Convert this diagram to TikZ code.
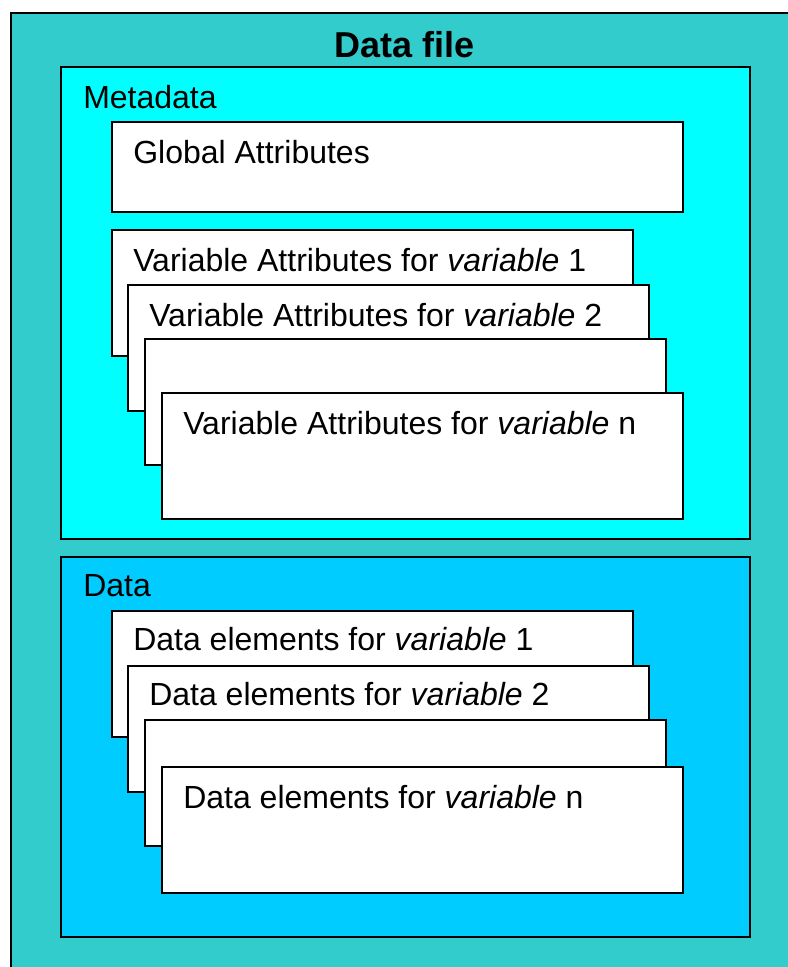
\documentclass[tikz,border=0pt]{standalone}
\usepackage{fontspec}
\setmainfont{Liberation Sans}
\usepackage{xcolor}
\usepackage{tikz}
\definecolor{fileteal}{HTML}{33CCCC}
\definecolor{metacyan}{HTML}{00FFFF}
\definecolor{datablue}{HTML}{00CCFF}
\tikzset{
  basebox/.style = {rectangle, draw=black, line width=1.2pt, inner sep=0pt,
    outer sep=0pt, anchor=north west},
  file_box/.style = {basebox, fill=fileteal, minimum width=592pt,
    minimum height=725pt},% le fichier entier
  meta_box/.style = {basebox, fill=metacyan, minimum width=516.75pt,
    minimum height=354pt},% bloc metadata
  data_box/.style = {basebox, fill=datablue, minimum width=516.75pt,
    minimum height=285pt},% bloc data
  glob_box/.style = {basebox, fill=white, minimum width=428.25pt,
    minimum height=67.5pt},% attributs globaux
  var_box/.style = {basebox, fill=white, minimum width=390.75pt,
    minimum height=94.5pt},% une feuille par variable
  box_txt/.style = {anchor=base west, inner sep=0pt,
    font=\fontsize{24}{29}\selectfont},
  title_txt/.style = {anchor=base, inner sep=0pt,
    font=\fontsize{27}{32}\selectfont\bfseries}
}

\begin{document}
\begin{tikzpicture}[x=0.75pt,y=-0.75pt]
\clip (0,0) rectangle (788,967);
\node [file_box] (file) at (11,13) {};
\node [title_txt] (t_file) at (405,57) {Data file};

% metadata
\node [meta_box] (meta) at (61,67) {};
\node [box_txt] (t_meta) at ([shift={(22,41)}]meta.north west) {Metadata};
\node [glob_box] (glob) at (112,122) {};
\node [box_txt] (t_glob) at ([shift={(21,41)}]glob.north west) {Global Attributes};
\node [var_box] (va1) at (112,230) {};
\node [box_txt] (t_va1) at ([shift={(21,41)}]va1.north west)
  {Variable Attributes for \textit{variable} 1};
\node [var_box] (va2) at (128,285) {};
\node [box_txt] (t_va2) at ([shift={(21,41)}]va2.north west)
  {Variable Attributes for \textit{variable} 2};
\node [var_box] (va3) at (145,339) {};
\node [var_box] (va4) at (162,393) {};
\node [box_txt] (t_va4) at ([shift={(21,41)}]va4.north west)
  {Variable Attributes for \textit{variable} n};

% data
\node [data_box] (data) at (61,557) {};
\node [box_txt] (t_data) at ([shift={(22,39)}]data.north west) {Data};
\node [var_box] (de1) at (112,611) {};
\node [box_txt] (t_de1) at ([shift={(21,39)}]de1.north west)
  {Data elements for \textit{variable} 1};
\node [var_box] (de2) at (128,666) {};
\node [box_txt] (t_de2) at ([shift={(21,39)}]de2.north west)
  {Data elements for \textit{variable} 2};
\node [var_box] (de3) at (145,720) {};
\node [var_box] (de4) at (162,767) {};
\node [box_txt] (t_de4) at ([shift={(21,41)}]de4.north west)
  {Data elements for \textit{variable} n};
\end{tikzpicture}
\end{document}
